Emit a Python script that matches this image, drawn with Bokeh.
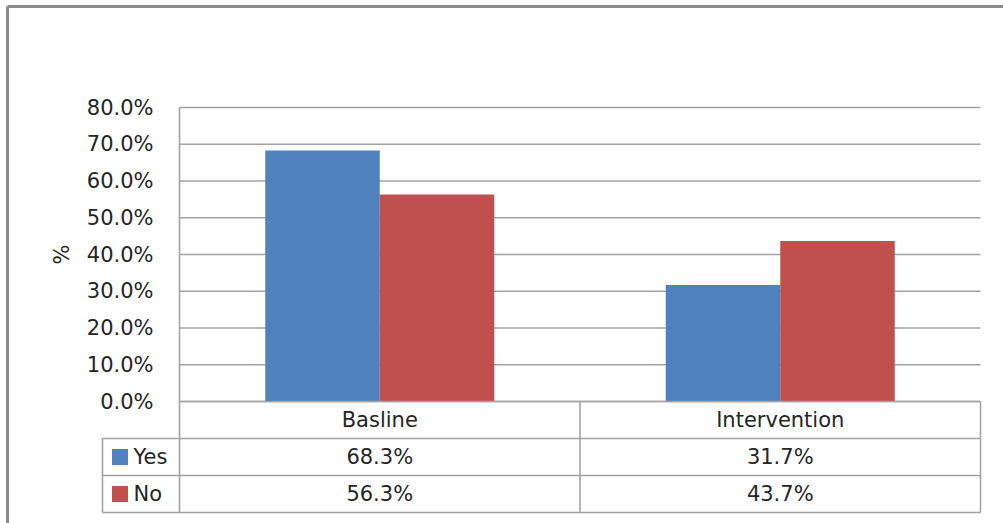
from bokeh.plotting import figure
from bokeh.models import Range1d
from bokeh.core.properties import value
from bokeh.embed import file_html
from bokeh.resources import INLINE

# ---- data ----
categories = ["Basline", "Intervention"]
series_names = ["Yes", "No"]
yes_pct = [68.3, 31.7]
no_pct = [56.3, 43.7]
y_ticks = [0, 10, 20, 30, 40, 50, 60, 70, 80]
y_tick_labels = ["0.0%", "10.0%", "20.0%", "30.0%", "40.0%", "50.0%", "60.0%", "70.0%", "80.0%"]
y_title = "%"

# ---- layout (pixels) ----
W, H = 1003, 523
PLOT_L, PLOT_R, PLOT_T, PLOT_B = 179, 980, 107, 401
LABEL_COL_L = 102          # left edge of the legend column in the data table
ROW_PX = 37                # data table row height
Y_MAX = y_ticks[-1]
n_cat = len(categories)
px_per_cat = (PLOT_R - PLOT_L) / n_cat
px_per_unit = (PLOT_B - PLOT_T) / Y_MAX


def sx(px):
    return (px - PLOT_L) / px_per_cat


def sy(px):
    return (PLOT_B - px) / px_per_unit


FONT = value("DejaVu Sans")
FSIZE = value("21px")
TXT = "#252525"
GRID = "#a3a3a3"
BLUE = "#4f81bd"
RED = "#c0504d"

p = figure(width=W, height=H,
           x_range=Range1d(sx(0), sx(W)), y_range=Range1d(sy(H), sy(0)),
           output_backend="svg", toolbar_location=None,
           x_axis_location=None, y_axis_location=None, min_border=0)
p.outline_line_color = None
p.background_fill_color = "white"
p.border_fill_color = "white"
p.xgrid.visible = False
p.ygrid.visible = False

# chart border (left and top edges)
p.segment(x0=[sx(7), sx(7)], y0=[sy(6), sy(6)], x1=[sx(7), sx(W + 5)], y1=[sy(H + 5), sy(6)],
          line_color="#8c8c8c", line_width=3)

# horizontal gridlines
p.segment(x0=[0] * len(y_ticks), x1=[n_cat] * len(y_ticks), y0=y_ticks, y1=y_ticks,
          line_color=GRID, line_width=1.6)
# value axis line
p.segment(x0=[0], x1=[0], y0=[0], y1=[Y_MAX], line_color=GRID, line_width=1.6)

# bars
BAR_W = 114.5 / px_per_cat
cat_idx = list(range(n_cat))
p.vbar(x=[i + 0.5 - BAR_W / 2 for i in cat_idx], top=yes_pct, bottom=0, width=BAR_W,
       fill_color=BLUE, line_color=None)
p.vbar(x=[i + 0.5 + BAR_W / 2 for i in cat_idx], top=no_pct, bottom=0, width=BAR_W,
       fill_color=RED, line_color=None)

# y tick labels
p.text(x=[sx(153)] * len(y_ticks), y=y_ticks, text=y_tick_labels,
       text_font=FONT, text_font_size=FSIZE, text_color=TXT,
       text_align="right", text_baseline="middle")

# y axis title
p.text(x=[sx(61)], y=[Y_MAX / 2], text=[y_title], angle=1.5708,
       text_font=FONT, text_font_size=FSIZE, text_color=TXT,
       text_align="center", text_baseline="middle")

# data table grid
row_edges = [PLOT_B + k * ROW_PX for k in range(4)]
hx0, hx1, hy = [], [], []
for k, r in enumerate(row_edges):
    hx0.append(0 if k == 0 else sx(LABEL_COL_L))
    hx1.append(n_cat)
    hy.append(sy(r))
p.segment(x0=hx0, x1=hx1, y0=hy, y1=hy, line_color=GRID, line_width=1.6)
vx = [sx(LABEL_COL_L)] + list(range(n_cat + 1))
vy0 = [sy(row_edges[1])] + [sy(row_edges[0])] * (n_cat + 1)
p.segment(x0=vx, x1=vx, y0=vy0, y1=[sy(row_edges[-1])] * len(vx), line_color=GRID, line_width=1.6)

# header row: category names
row_mid = [sy(row_edges[k] + ROW_PX / 2) for k in range(3)]
p.text(x=[i + 0.5 for i in cat_idx], y=[row_mid[0]] * n_cat, text=categories,
       text_font=FONT, text_font_size=FSIZE, text_color=TXT,
       text_align="center", text_baseline="middle")

# value rows
for k, (vals, color, name) in enumerate([(yes_pct, BLUE, series_names[0]),
                                           (no_pct, RED, series_names[1])]):
    ym = row_mid[k + 1]
    p.text(x=[i + 0.5 for i in cat_idx], y=[ym] * n_cat, text=[f"{v:.1f}%" for v in vals],
           text_font=FONT, text_font_size=FSIZE, text_color=TXT,
           text_align="center", text_baseline="middle")
    p.scatter(x=[sx(119.5)], y=[ym], marker="square", size=16,
              fill_color=color, line_color=None)
    p.text(x=[sx(133)], y=[ym], text=[name],
           text_font=FONT, text_font_size=FSIZE, text_color=TXT,
           text_align="left", text_baseline="middle")

open("out.html", "w").write(file_html(p, INLINE))
